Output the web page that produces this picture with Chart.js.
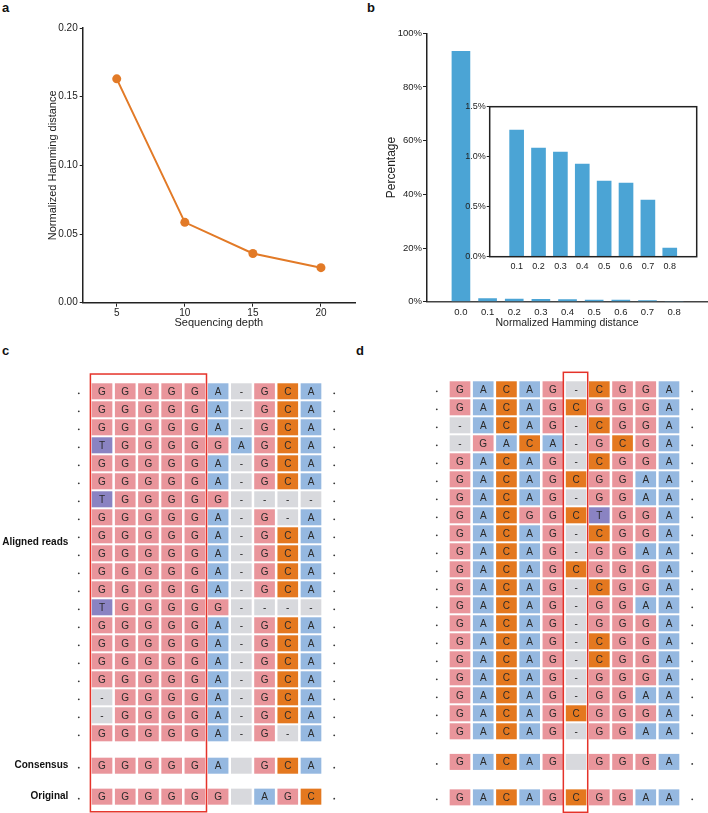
<!DOCTYPE html>
<html>
<head>
<meta charset="utf-8">
<script src="https://cdn.jsdelivr.net/npm/chart.js@4/dist/chart.umd.min.js"></script>
<style>
  body { margin: 0; background: #fff; width: 708px; height: 813px; position: relative; overflow: hidden;
         font-family: "Liberation Sans", Arial, sans-serif; }
  canvas, .tag { position: absolute; }
  .tag { font-weight: bold; font-size: 13px; line-height: 13px; color: #111; }
</style>
</head>
<body>
<div class="tag" style="left:2px;top:1px">a</div>
<div class="tag" style="left:367px;top:1px">b</div>
<div class="tag" style="left:2px;top:344px">c</div>
<div class="tag" style="left:356px;top:344px">d</div>

<canvas id="lineChart" width="360" height="335" style="left:0;top:0"></canvas>
<canvas id="barChart" width="354" height="335" style="left:354px;top:0"></canvas>
<canvas id="insetChart" width="265" height="185" style="left:440px;top:95px"></canvas>
<canvas id="gridC" width="354" height="473" style="left:0;top:340px"></canvas>
<canvas id="gridD" width="354" height="473" style="left:354px;top:340px"></canvas>

<script>
// ---- data ----
const depthValues = [5, 10, 15, 20];
const hammingByDepth = [0.163, 0.0585, 0.0358, 0.0255];
const hammingTicks = [0, 0.05, 0.1, 0.15, 0.2];

const distanceBins = [0.0, 0.1, 0.2, 0.3, 0.4, 0.5, 0.6, 0.7, 0.8];
const distancePercent = [93.4, 1.27, 1.09, 1.05, 0.93, 0.76, 0.74, 0.57, 0.09];
const percentTicks = [0, 20, 40, 60, 80, 100];
const insetBins = [0.1, 0.2, 0.3, 0.4, 0.5, 0.6, 0.7, 0.8];
const insetPercent = [1.27, 1.09, 1.05, 0.93, 0.76, 0.74, 0.57, 0.09];
const insetTicks = [0, 0.5, 1.0, 1.5];

// aligned reads, one string per row (" " = empty gap cell)
const readsC = [
  "GGGGGA-GCA", "GGGGGA-GCA", "GGGGGA-GCA", "TGGGGGAGCA", "GGGGGA-GCA",
  "GGGGGA-GCA", "TGGGGG----", "GGGGGA-G-A", "GGGGGA-GCA", "GGGGGA-GCA",
  "GGGGGA-GCA", "GGGGGA-GCA", "TGGGGG----", "GGGGGA-GCA", "GGGGGA-GCA",
  "GGGGGA-GCA", "GGGGGA-GCA", "-GGGGA-GCA", "-GGGGA-GCA", "GGGGGA-G-A"
];
const consensusC = "GGGGGA GCA";
const originalC = "GGGGGG AGC";

const readsD = [
  "GACAG-CGGA", "GACAGCGGGA", "-ACAG-CGGA", "-GACA-GCGA", "GACAG-CGGA",
  "GACAGCGGAA", "GACAG-GGAA", "GACGGCTGGA", "GACAG-CGGA", "GACAG-GGAA",
  "GACAGCGGGA", "GACAG-CGGA", "GACAG-GGAA", "GACAG-GGGA", "GACAG-CGGA",
  "GACAG-CGGA", "GACAG-GGGA", "GACAG-GGAA", "GACAGCGGGA", "GACAG-GGAA"
];
const consensusD = "GACAG GGGA";
const originalD = "GACAGCGGAA";

// ---- styles ----
const FONT = '"Liberation Sans", Arial, sans-serif';
const INK = '#222';
const ORANGE = '#e27a27';
const BLUE = '#4ba4d5';
const baseColors = { G: '#e9959b', A: '#95b8e0', C: '#e4781f', T: '#8a83c2', '-': '#d8d9dd', ' ': '#d8d9dd' };

function fixedTicks(values) {
  return scale => { scale.ticks = values.map(v => ({ value: v })); };
}
function axis(extra) {
  return Object.assign({
    grid: { display: true, drawOnChartArea: false, drawTicks: true, tickLength: 4, color: INK, tickColor: INK },
    border: { display: true, color: INK, width: 1.5 },
  }, extra);
}
const common = {
  responsive: false, animation: false, events: [],
  plugins: { legend: { display: false }, tooltip: { enabled: false } },
};

// ---- a: line chart ----
new Chart(document.getElementById('lineChart'), {
  type: 'line',
  data: {
    datasets: [{
      data: depthValues.map((d, i) => ({ x: d, y: hammingByDepth[i] })),
      borderColor: ORANGE, backgroundColor: ORANGE, borderWidth: 2,
      pointRadius: 4.5, pointBorderWidth: 0, tension: 0,
    }],
  },
  options: Object.assign({}, common, {
    layout: { padding: { left: 0, right: 5, top: 28, bottom: 0 } },
    scales: {
      x: axis({
        type: 'linear', min: 2.5, max: 22.5,
        afterBuildTicks: fixedTicks(depthValues),
        afterFit: s => { s.height = 32.3; },
        ticks: { font: { size: 10, family: FONT }, color: INK, padding: 1, callback: v => v },
        title: { display: true, text: 'Sequencing depth', color: INK, font: { size: 11, family: FONT }, padding: { top: 0, bottom: 5.7 } },
      }),
      y: axis({
        type: 'linear', min: 0, max: 0.2,
        afterBuildTicks: fixedTicks(hammingTicks),
        afterFit: s => { s.width = 82.7; },
        grid: { display: true, drawOnChartArea: false, drawTicks: true, tickLength: 3, color: INK, tickColor: INK },
        ticks: { font: { size: 10, family: FONT }, color: INK, padding: 2, callback: v => v.toFixed(2) },
        title: { display: true, text: 'Normalized Hamming distance', color: INK, font: { size: 11, family: FONT }, padding: { top: 46, bottom: 0 } },
      }),
    },
  }),
});

// ---- b: bar chart + inset ----
new Chart(document.getElementById('barChart'), {
  type: 'bar',
  data: {
    datasets: [{
      data: distanceBins.map((d, i) => ({ x: d, y: distancePercent[i] })),
      backgroundColor: BLUE, barPercentage: 0.7, categoryPercentage: 1,
    }],
  },
  options: Object.assign({}, common, {
    layout: { padding: { left: 0, right: 1, top: 33.3, bottom: 0 } },
    scales: {
      x: axis({
        type: 'linear', min: -0.069, max: 0.865,
        afterBuildTicks: fixedTicks(distanceBins),
        afterFit: s => { s.height = 33.3; },
        grid: { display: true, drawOnChartArea: false, drawTicks: false, color: INK },
        border: { display: true, color: '#444', width: 1.5 },
        ticks: { font: { size: 9.5, family: FONT }, color: INK, padding: 5, callback: v => v.toFixed(1) },
        title: { display: true, text: 'Normalized Hamming distance', color: INK, font: { size: 10.5, family: FONT }, padding: { top: 0, bottom: 6 } },
      }),
      y: axis({
        type: 'linear', min: 0, max: 100,
        afterBuildTicks: fixedTicks(percentTicks),
        afterFit: s => { s.width = 73; },
        ticks: { font: { size: 9.5, family: FONT }, color: INK, padding: 1, callback: v => v + '%' },
        title: { display: true, text: 'Percentage', color: INK, font: { size: 12, family: FONT }, padding: { top: 30.8, bottom: 0 } },
      }),
    },
  }),
});

const framePlugin = {
  id: 'frame',
  afterDraw(chart) {
    const { ctx, chartArea: a } = chart;
    ctx.save();
    ctx.strokeStyle = INK;
    ctx.lineWidth = 1.5;
    ctx.strokeRect(a.left, a.top, a.right - a.left, a.bottom - a.top);
    ctx.restore();
  },
};

new Chart(document.getElementById('insetChart'), {
  type: 'bar',
  data: {
    datasets: [{
      data: insetBins.map((d, i) => ({ x: d, y: insetPercent[i] })),
      backgroundColor: BLUE, barPercentage: 0.67, categoryPercentage: 1,
    }],
  },
  plugins: [framePlugin],
  options: Object.assign({}, common, {
    layout: { padding: { left: 0, right: 8.3, top: 11.7, bottom: 0 } },
    scales: {
      x: axis({
        type: 'linear', min: 0.036, max: 0.864,
        afterBuildTicks: fixedTicks(insetBins),
        afterFit: s => { s.height = 23.3; },
        grid: { display: true, drawOnChartArea: false, drawTicks: false, color: INK },
        border: { display: false },
        ticks: { font: { size: 9, family: FONT }, color: INK, padding: 4, callback: v => v.toFixed(1) },
      }),
      y: axis({
        type: 'linear', min: 0, max: 1.5,
        afterBuildTicks: fixedTicks(insetTicks),
        afterFit: s => { s.width = 49.7; },
        grid: { display: true, drawOnChartArea: false, drawTicks: true, tickLength: 3, color: INK, tickColor: INK },
        border: { display: false },
        ticks: { font: { size: 9, family: FONT }, color: INK, padding: 1, callback: v => v.toFixed(1) + '%' },
      }),
    },
  }),
});

// ---- c, d: alignment grids ----
function buildCells(reads, consensus, original, consRow, origRow) {
  const rows = reads.map((seq, i) => ({ seq, y: i + 1 }));
  rows.push({ seq: consensus, y: consRow }, { seq: original, y: origRow });
  const cells = [];
  rows.forEach(r => {
    [...r.seq].forEach((b, j) => cells.push({ x: j + 1, y: r.y, base: b }));
  });
  return { cells, rowYs: rows.map(r => r.y) };
}

const alignmentPlugin = {
  id: 'alignment',
  afterDatasetsDraw(chart, args, opts) {
    const { ctx, scales: { x, y } } = chart;
    const colW = Math.abs(x.getPixelForValue(1) - x.getPixelForValue(0));
    const rowH = Math.abs(y.getPixelForValue(1) - y.getPixelForValue(0));
    const w = colW * 0.89, h = rowH * 0.89;
    ctx.save();
    ctx.textAlign = 'center';
    ctx.textBaseline = 'middle';
    ctx.font = '10px ' + FONT;
    chart.data.datasets[0].data.forEach(c => {
      const px = x.getPixelForValue(c.x), py = y.getPixelForValue(c.y);
      ctx.fillStyle = baseColors[c.base];
      ctx.fillRect(px - w / 2, py - h / 2, w, h);
      if (c.base !== ' ') {
        ctx.fillStyle = '#2a2a2a';
        ctx.fillText(c.base, px, py + 0.5);
      }
    });
    // row dots on both sides
    ctx.fillStyle = '#333';
    opts.rowYs.forEach(r => {
      const py = y.getPixelForValue(r);
      [0, opts.cols + 1].forEach(cx => {
        ctx.beginPath();
        ctx.arc(x.getPixelForValue(cx), py + 2, 0.9, 0, Math.PI * 2);
        ctx.fill();
      });
    });
    // row labels
    ctx.font = 'bold 10px ' + FONT;
    ctx.textAlign = 'right';
    ctx.fillStyle = '#111';
    (opts.labels || []).forEach(l => {
      ctx.fillText(l.text, x.getPixelForValue(-0.45), y.getPixelForValue(l.row));
    });
    // red highlight box
    const b = opts.box;
    const bx0 = x.getPixelForValue(b.x0), bx1 = x.getPixelForValue(b.x1);
    const by0 = y.getPixelForValue(b.y0), by1 = y.getPixelForValue(b.y1);
    ctx.strokeStyle = '#e5332a';
    ctx.lineWidth = 1.5;
    ctx.strokeRect(bx0, by0, bx1 - bx0, by1 - by0);
    ctx.restore();
  },
};

function gridChart(id, built, padding, box, labels) {
  return new Chart(document.getElementById(id), {
    type: 'scatter',
    data: { datasets: [{ data: built.cells, pointRadius: 0 }] },
    plugins: [alignmentPlugin],
    options: Object.assign({}, common, {
      layout: { padding },
      scales: {
        x: { type: 'linear', min: 0.5, max: 10.5, display: false },
        y: { type: 'linear', min: 0.5, max: 24, reverse: true, display: false },
      },
      plugins: Object.assign({}, common.plugins, {
        alignment: { rowYs: built.rowYs, cols: 10, box, labels },
      }),
    }),
  });
}

gridChart('gridC',
  buildCells(readsC, consensusC, originalC, 21.8, 23.52),
  { left: 90.4, right: 31.4, top: 42.3, bottom: 7.7 },
  { x0: 0.5, x1: 5.5, y0: 0.04, y1: 24.36 },
  [{ text: 'Aligned reads', row: 9.4 }, { text: 'Consensus', row: 21.8 }, { text: 'Original', row: 23.52 }]);

gridChart('gridD',
  buildCells(readsD, consensusD, originalD, 21.7, 23.67),
  { left: 94.4, right: 27.4, top: 40.3, bottom: 9.7 },
  { x0: 5.45, x1: 6.5, y0: 0.056, y1: 24.5 },
  []);
</script>
</body>
</html>
